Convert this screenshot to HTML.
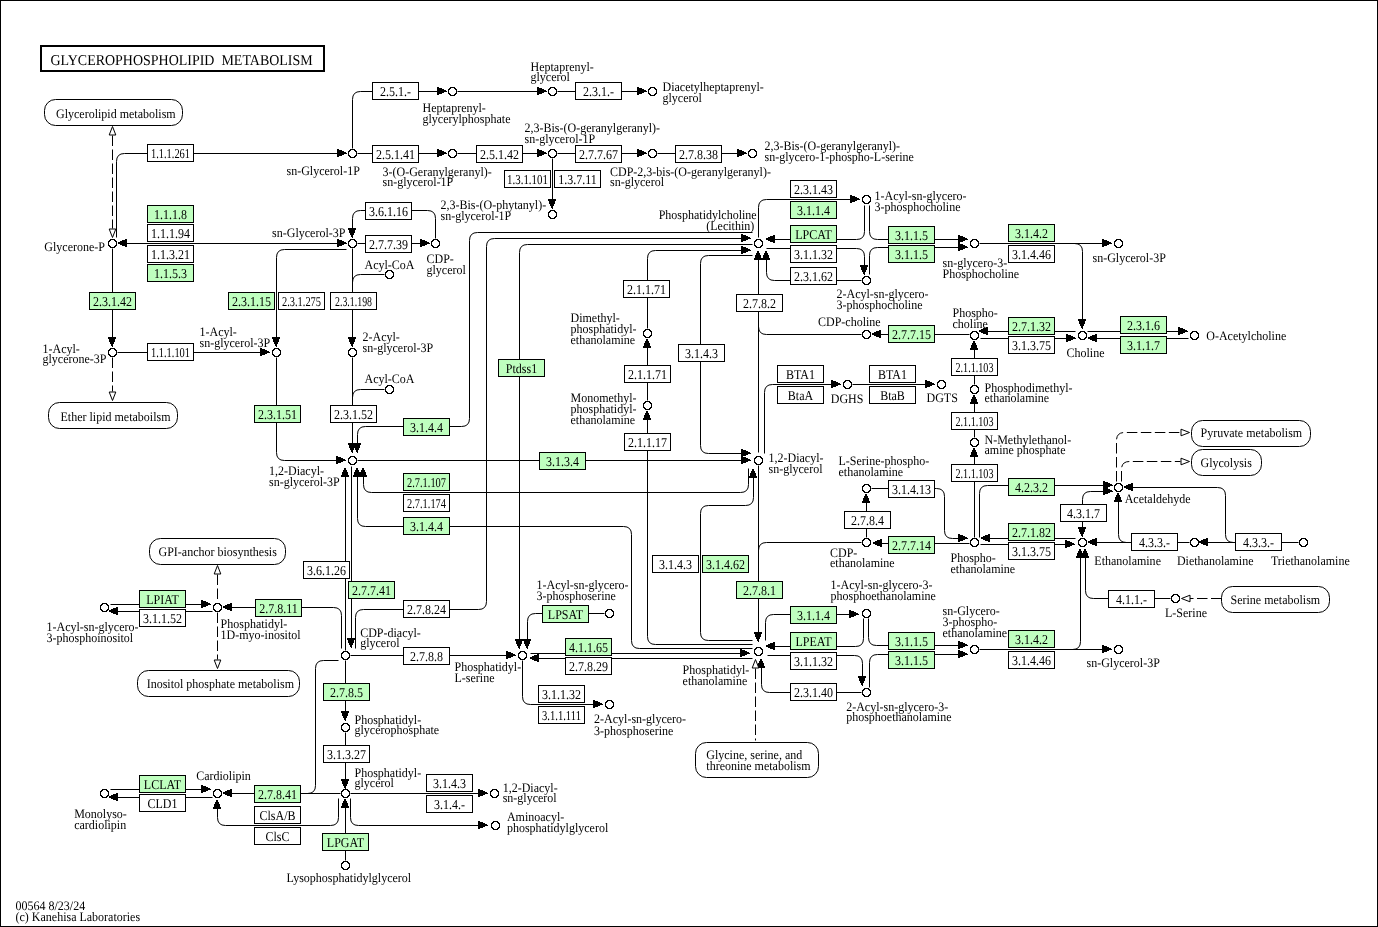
<!DOCTYPE html>
<html><head><meta charset="utf-8"><title>Glycerophospholipid metabolism</title>
<style>
html,body{margin:0;padding:0;background:#fff;}
svg{display:block;text-rendering:geometricPrecision;will-change:transform;font-family:"Liberation Serif",serif;font-size:12px;fill:#000;}
text{fill:#000;}
</style></head><body>
<svg width="1378" height="927" viewBox="0 0 1378 927">
<defs><g id="ring" shape-rendering="crispEdges"><path d="M3 1H6V2H7V3H8V6H7V7H6V8H3V7H2V6H1V3H2V2H3Z" fill="#fff"/><path d="M2 0H7V1H8V2H9V7H8V8H7V9H2V8H1V7H0V2H1V1H2Z M3 1H6V2H7V3H8V6H7V7H6V8H3V7H2V6H1V3H2V2H3Z" fill="#000" fill-rule="evenodd"/></g></defs>
<rect x="0" y="0" width="1378" height="927" fill="#fff"/>
<rect x="0.5" y="0.5" width="1377" height="926" fill="none" stroke="#000" stroke-width="1"/>
<rect x="41" y="46" width="283" height="25" fill="none" stroke="#000" stroke-width="2"/>
<text x="50.5" y="64.6" font-size="15" textLength="262.2" lengthAdjust="spacingAndGlyphs">GLYCEROPHOSPHOLIPID&#160; METABOLISM</text>
<path d="M112.5 135.5 L112.5 228.5" fill="none" stroke="#000" stroke-width="1" stroke-dasharray="10.5,3.5"/>
<polygon points="112.5,126.5 115.8,135 109.2,135" fill="#fff" stroke="#000" stroke-width="1"/>
<polygon points="112.5,237.5 109.2,229 115.8,229" fill="#fff" stroke="#000" stroke-width="1"/>
<path d="M116.5 237.5 L116.5 161.5 Q116.5 153.5 124.5 153.5 L339.5 153.5" fill="none" stroke="#000" stroke-width="1"/>
<path d="M346 153h1v1h-1zM344 152h2v2h-2zM342 151h2v4h-2zM339 150h3v6h-3zM337 149h2v8h-2z" fill="#000" shape-rendering="crispEdges"/>
<path d="M126.5 243.5 L339.5 243.5" fill="none" stroke="#000" stroke-width="1"/>
<path d="M346 243h1v1h-1zM344 242h2v2h-2zM342 241h2v4h-2zM339 240h3v6h-3zM337 239h2v8h-2z" fill="#000" shape-rendering="crispEdges"/>
<path d="M118 242h2v2h-2zM120 241h2v4h-2zM122 240h3v6h-3zM125 239h2v8h-2z" fill="#000" shape-rendering="crispEdges"/>
<path d="M112.5 248.5 L112.5 338.5" fill="none" stroke="#000" stroke-width="1"/>
<path d="M112 346h1v1h-1zM111 344h2v2h-2zM110 342h4v2h-4zM109 339h6v3h-6zM108 337h8v2h-8z" fill="#000" shape-rendering="crispEdges"/>
<path d="M117.5 352.5 L262.5 352.5" fill="none" stroke="#000" stroke-width="1"/>
<path d="M269 352h1v1h-1zM267 351h2v2h-2zM265 350h2v4h-2zM262 349h3v6h-3zM260 348h2v8h-2z" fill="#000" shape-rendering="crispEdges"/>
<path d="M112.5 357.5 L112.5 391.5" fill="none" stroke="#000" stroke-width="1" stroke-dasharray="10.5,3.5"/>
<polygon points="112.5,400.5 109.2,392 115.8,392" fill="#fff" stroke="#000" stroke-width="1"/>
<path d="M352.5 148.5 L352.5 99.5 Q352.5 91.5 360.5 91.5 L439.5 91.5" fill="none" stroke="#000" stroke-width="1"/>
<path d="M446 91h1v1h-1zM444 90h2v2h-2zM442 89h2v4h-2zM439 88h3v6h-3zM437 87h2v8h-2z" fill="#000" shape-rendering="crispEdges"/>
<path d="M357.5 153.5 L439.5 153.5" fill="none" stroke="#000" stroke-width="1"/>
<path d="M446 153h1v1h-1zM444 152h2v2h-2zM442 151h2v4h-2zM439 150h3v6h-3zM437 149h2v8h-2z" fill="#000" shape-rendering="crispEdges"/>
<path d="M457.5 91.5 L539.5 91.5" fill="none" stroke="#000" stroke-width="1"/>
<path d="M546 91h1v1h-1zM544 90h2v2h-2zM542 89h2v4h-2zM539 88h3v6h-3zM537 87h2v8h-2z" fill="#000" shape-rendering="crispEdges"/>
<path d="M557.5 91.5 L639.5 91.5" fill="none" stroke="#000" stroke-width="1"/>
<path d="M646 91h1v1h-1zM644 90h2v2h-2zM642 89h2v4h-2zM639 88h3v6h-3zM637 87h2v8h-2z" fill="#000" shape-rendering="crispEdges"/>
<path d="M457.5 153.5 L539.5 153.5" fill="none" stroke="#000" stroke-width="1"/>
<path d="M546 153h1v1h-1zM544 152h2v2h-2zM542 151h2v4h-2zM539 150h3v6h-3zM537 149h2v8h-2z" fill="#000" shape-rendering="crispEdges"/>
<path d="M557.5 153.5 L639.5 153.5" fill="none" stroke="#000" stroke-width="1"/>
<path d="M646 153h1v1h-1zM644 152h2v2h-2zM642 151h2v4h-2zM639 150h3v6h-3zM637 149h2v8h-2z" fill="#000" shape-rendering="crispEdges"/>
<path d="M657.5 153.5 L739.5 153.5" fill="none" stroke="#000" stroke-width="1"/>
<path d="M746 153h1v1h-1zM744 152h2v2h-2zM742 151h2v4h-2zM739 150h3v6h-3zM737 149h2v8h-2z" fill="#000" shape-rendering="crispEdges"/>
<path d="M552.5 158.5 L552.5 200.5" fill="none" stroke="#000" stroke-width="1"/>
<path d="M552 208h1v1h-1zM551 206h2v2h-2zM550 204h4v2h-4zM549 201h6v3h-6zM548 199h8v2h-8z" fill="#000" shape-rendering="crispEdges"/>
<path d="M435.5 238.5 L435.5 218.5 Q435.5 210.5 427.5 210.5 L360.5 210.5 Q352.5 210.5 352.5 218.5 L352.5 229.5" fill="none" stroke="#000" stroke-width="1"/>
<path d="M352 237h1v1h-1zM351 235h2v2h-2zM350 233h4v2h-4zM349 230h6v3h-6zM348 228h8v2h-8z" fill="#000" shape-rendering="crispEdges"/>
<path d="M357.5 243.5 L422.5 243.5" fill="none" stroke="#000" stroke-width="1"/>
<path d="M429 243h1v1h-1zM427 242h2v2h-2zM425 241h2v4h-2zM422 240h3v6h-3zM420 239h2v8h-2z" fill="#000" shape-rendering="crispEdges"/>
<path d="M346.5 249.5 L284.5 249.5 Q276.5 249.5 276.5 257.5 L276.5 338.5" fill="none" stroke="#000" stroke-width="1"/>
<path d="M276 346h1v1h-1zM275 344h2v2h-2zM274 342h4v2h-4zM273 339h6v3h-6zM272 337h8v2h-8z" fill="#000" shape-rendering="crispEdges"/>
<path d="M352.5 248.5 L352.5 338.5" fill="none" stroke="#000" stroke-width="1"/>
<path d="M352 346h1v1h-1zM351 344h2v2h-2zM350 342h4v2h-4zM349 339h6v3h-6zM348 337h8v2h-8z" fill="#000" shape-rendering="crispEdges"/>
<path d="M384.5 274.5 L360.5 274.5 Q352.5 274.5 352.5 282.5 L352.5 290.5" fill="none" stroke="#000" stroke-width="1"/>
<path d="M384.5 389.5 L360.5 389.5 Q352.5 389.5 352.5 397.5 L352.5 405.5" fill="none" stroke="#000" stroke-width="1"/>
<path d="M276.5 357.5 L276.5 452.5 Q276.5 460.5 284.5 460.5 L338.5 460.5" fill="none" stroke="#000" stroke-width="1"/>
<path d="M345 460h1v1h-1zM343 459h2v2h-2zM341 458h2v4h-2zM338 457h3v6h-3zM336 456h2v8h-2z" fill="#000" shape-rendering="crispEdges"/>
<path d="M352.5 357.5 L352.5 444.5" fill="none" stroke="#000" stroke-width="1"/>
<path d="M352 452h1v1h-1zM351 450h2v2h-2zM350 448h4v2h-4zM349 445h6v3h-6zM348 443h8v2h-8z" fill="#000" shape-rendering="crispEdges"/>
<path d="M752.5 232.5 L477.5 232.5 Q469.5 232.5 469.5 240.5 L469.5 418.5 Q469.5 426.5 461.5 426.5 L365.5 426.5 Q357.5 426.5 357.5 434.5 L357.5 444.5" fill="none" stroke="#000" stroke-width="1"/>
<path d="M357 452h1v1h-1zM356 450h2v2h-2zM355 448h4v2h-4zM354 445h6v3h-6zM353 443h8v2h-8z" fill="#000" shape-rendering="crispEdges"/>
<path d="M357.5 460.5 L743.5 460.5" fill="none" stroke="#000" stroke-width="1"/>
<path d="M750 460h1v1h-1zM748 459h2v2h-2zM746 458h2v4h-2zM743 457h3v6h-3zM741 456h2v8h-2z" fill="#000" shape-rendering="crispEdges"/>
<path d="M752.5 255.5 L708.5 255.5 Q700.5 255.5 700.5 263.5 L700.5 445.5 Q700.5 453.5 708.5 453.5 L743.5 453.5" fill="none" stroke="#000" stroke-width="1"/>
<path d="M750 453h1v1h-1zM748 452h2v2h-2zM746 451h2v4h-2zM743 450h3v6h-3zM741 449h2v8h-2z" fill="#000" shape-rendering="crispEdges"/>
<path d="M647.5 328.5 L647.5 258.5 Q647.5 250.5 655.5 250.5 L743.5 250.5" fill="none" stroke="#000" stroke-width="1"/>
<path d="M750 250h1v1h-1zM748 249h2v2h-2zM746 248h2v4h-2zM743 247h3v6h-3zM741 246h2v8h-2z" fill="#000" shape-rendering="crispEdges"/>
<path d="M647.5 400.5 L647.5 347.5" fill="none" stroke="#000" stroke-width="1"/>
<path d="M646 339h2v2h-2zM645 341h4v2h-4zM644 343h6v3h-6zM643 346h8v2h-8z" fill="#000" shape-rendering="crispEdges"/>
<path d="M752.5 644.5 L655.5 644.5 Q647.5 644.5 647.5 636.5 L647.5 419.5" fill="none" stroke="#000" stroke-width="1"/>
<path d="M646 411h2v2h-2zM645 413h4v2h-4zM644 415h6v3h-6zM643 418h8v2h-8z" fill="#000" shape-rendering="crispEdges"/>
<path d="M752.5 244.5 L527.5 244.5 Q519.5 244.5 519.5 252.5 L519.5 640.5" fill="none" stroke="#000" stroke-width="1"/>
<path d="M519 648h1v1h-1zM518 646h2v2h-2zM517 644h4v2h-4zM516 641h6v3h-6zM515 639h8v2h-8z" fill="#000" shape-rendering="crispEdges"/>
<path d="M355.5 648.5 L355.5 617.5 Q355.5 609.5 363.5 609.5 L478.5 609.5 Q486.5 609.5 486.5 601.5 L486.5 246.5 Q486.5 238.5 494.5 238.5 L743.5 238.5" fill="none" stroke="#000" stroke-width="1"/>
<path d="M750 238h1v1h-1zM748 237h2v2h-2zM746 236h2v4h-2zM743 235h3v6h-3zM741 234h2v8h-2z" fill="#000" shape-rendering="crispEdges"/>
<path d="M345.5 650.5 L345.5 476.5" fill="none" stroke="#000" stroke-width="1"/>
<path d="M344 468h2v2h-2zM343 470h4v2h-4zM342 472h6v3h-6zM341 475h8v2h-8z" fill="#000" shape-rendering="crispEdges"/>
<path d="M351.5 466.5 L351.5 639.5" fill="none" stroke="#000" stroke-width="1"/>
<path d="M351 647h1v1h-1zM350 645h2v2h-2zM349 643h4v2h-4zM348 640h6v3h-6zM347 638h8v2h-8z" fill="#000" shape-rendering="crispEdges"/>
<path d="M752.5 648.5 L639.5 648.5 Q631.5 648.5 631.5 640.5 L631.5 534.5 Q631.5 526.5 623.5 526.5 L365.5 526.5 Q357.5 526.5 357.5 518.5 L357.5 476.5" fill="none" stroke="#000" stroke-width="1"/>
<path d="M356 468h2v2h-2zM355 470h4v2h-4zM354 472h6v3h-6zM353 475h8v2h-8z" fill="#000" shape-rendering="crispEdges"/>
<path d="M748.5 468.5 L748.5 484.5 Q748.5 492.5 740.5 492.5 L371.5 492.5 Q363.5 492.5 363.5 484.5 L363.5 476.5" fill="none" stroke="#000" stroke-width="1"/>
<path d="M362 468h2v2h-2zM361 470h4v2h-4zM360 472h6v3h-6zM359 475h8v2h-8z" fill="#000" shape-rendering="crispEdges"/>
<path d="M341.5 648.5 L341.5 615.5 Q341.5 607.5 333.5 607.5 L231.5 607.5" fill="none" stroke="#000" stroke-width="1"/>
<path d="M223 606h2v2h-2zM225 605h2v4h-2zM227 604h3v6h-3zM230 603h2v8h-2z" fill="#000" shape-rendering="crispEdges"/>
<path d="M217.5 574.5 L217.5 601.5" fill="none" stroke="#000" stroke-width="1" stroke-dasharray="10.5,3.5"/>
<polygon points="217.5,565.5 220.8,574 214.2,574" fill="#fff" stroke="#000" stroke-width="1"/>
<path d="M217.5 612.5 L217.5 659.5" fill="none" stroke="#000" stroke-width="1" stroke-dasharray="10.5,3.5"/>
<polygon points="217.5,668.5 214.2,660 220.8,660" fill="#fff" stroke="#000" stroke-width="1"/>
<path d="M110.5 604.5 L203.5 604.5" fill="none" stroke="#000" stroke-width="1"/>
<path d="M210 604h1v1h-1zM208 603h2v2h-2zM206 602h2v4h-2zM203 601h3v6h-3zM201 600h2v8h-2z" fill="#000" shape-rendering="crispEdges"/>
<path d="M212.5 611.5 L117.5 611.5" fill="none" stroke="#000" stroke-width="1"/>
<path d="M109 610h2v2h-2zM111 609h2v4h-2zM113 608h3v6h-3zM116 607h2v8h-2z" fill="#000" shape-rendering="crispEdges"/>
<path d="M350.5 655.5 L508.5 655.5" fill="none" stroke="#000" stroke-width="1"/>
<path d="M515 655h1v1h-1zM513 654h2v2h-2zM511 653h2v4h-2zM508 652h3v6h-3zM506 651h2v8h-2z" fill="#000" shape-rendering="crispEdges"/>
<path d="M345.5 660.5 L345.5 712.5" fill="none" stroke="#000" stroke-width="1"/>
<path d="M345 720h1v1h-1zM344 718h2v2h-2zM343 716h4v2h-4zM342 713h6v3h-6zM341 711h8v2h-8z" fill="#000" shape-rendering="crispEdges"/>
<path d="M338.5 660.5 L323.5 660.5 Q315.5 660.5 315.5 668.5 L315.5 785.5 Q315.5 793.5 307.5 793.5 L305.5 793.5" fill="none" stroke="#000" stroke-width="1"/>
<path d="M345.5 732.5 L345.5 780.5" fill="none" stroke="#000" stroke-width="1"/>
<path d="M345 788h1v1h-1zM344 786h2v2h-2zM343 784h4v2h-4zM342 781h6v3h-6zM341 779h8v2h-8z" fill="#000" shape-rendering="crispEdges"/>
<path d="M340.5 793.5 L231.5 793.5" fill="none" stroke="#000" stroke-width="1"/>
<path d="M223 792h2v2h-2zM225 791h2v4h-2zM227 790h3v6h-3zM230 789h2v8h-2z" fill="#000" shape-rendering="crispEdges"/>
<path d="M110.5 789.5 L203.5 789.5" fill="none" stroke="#000" stroke-width="1"/>
<path d="M210 789h1v1h-1zM208 788h2v2h-2zM206 787h2v4h-2zM203 786h3v6h-3zM201 785h2v8h-2z" fill="#000" shape-rendering="crispEdges"/>
<path d="M212.5 797.5 L117.5 797.5" fill="none" stroke="#000" stroke-width="1"/>
<path d="M109 796h2v2h-2zM111 795h2v4h-2zM113 794h3v6h-3zM116 793h2v8h-2z" fill="#000" shape-rendering="crispEdges"/>
<path d="M338.5 798.5 L338.5 817.5 Q338.5 825.5 330.5 825.5 L225.5 825.5 Q217.5 825.5 217.5 817.5 L217.5 808.5" fill="none" stroke="#000" stroke-width="1"/>
<path d="M216 800h2v2h-2zM215 802h4v2h-4zM214 804h6v3h-6zM213 807h8v2h-8z" fill="#000" shape-rendering="crispEdges"/>
<path d="M345.5 860.5 L345.5 807.5" fill="none" stroke="#000" stroke-width="1"/>
<path d="M344 799h2v2h-2zM343 801h4v2h-4zM342 803h6v3h-6zM341 806h8v2h-8z" fill="#000" shape-rendering="crispEdges"/>
<path d="M350.5 798.5 L350.5 817.5 Q350.5 825.5 358.5 825.5 L480.5 825.5" fill="none" stroke="#000" stroke-width="1"/>
<path d="M487 825h1v1h-1zM485 824h2v2h-2zM483 823h2v4h-2zM480 822h3v6h-3zM478 821h2v8h-2z" fill="#000" shape-rendering="crispEdges"/>
<path d="M350.5 793.5 L480.5 793.5" fill="none" stroke="#000" stroke-width="1"/>
<path d="M487 793h1v1h-1zM485 792h2v2h-2zM483 791h2v4h-2zM480 790h3v6h-3zM478 789h2v8h-2z" fill="#000" shape-rendering="crispEdges"/>
<path d="M604.5 613.5 L535.5 613.5 Q527.5 613.5 527.5 621.5 L527.5 640.5" fill="none" stroke="#000" stroke-width="1"/>
<path d="M527 648h1v1h-1zM526 646h2v2h-2zM525 644h4v2h-4zM524 641h6v3h-6zM523 639h8v2h-8z" fill="#000" shape-rendering="crispEdges"/>
<path d="M530.5 653.5 L742.5 653.5" fill="none" stroke="#000" stroke-width="1"/>
<path d="M749 653h1v1h-1zM747 652h2v2h-2zM745 651h2v4h-2zM742 650h3v6h-3zM740 649h2v8h-2z" fill="#000" shape-rendering="crispEdges"/>
<path d="M752.5 658.5 L538.5 658.5" fill="none" stroke="#000" stroke-width="1"/>
<path d="M530 657h2v2h-2zM532 656h2v4h-2zM534 655h3v6h-3zM537 654h2v8h-2z" fill="#000" shape-rendering="crispEdges"/>
<path d="M522.5 660.5 L522.5 696.5 Q522.5 704.5 530.5 704.5 L595.5 704.5" fill="none" stroke="#000" stroke-width="1"/>
<path d="M602 704h1v1h-1zM600 703h2v2h-2zM598 702h2v4h-2zM595 701h3v6h-3zM593 700h2v8h-2z" fill="#000" shape-rendering="crispEdges"/>
<path d="M758.5 452.5 L758.5 259.5" fill="none" stroke="#000" stroke-width="1"/>
<path d="M757 251h2v2h-2zM756 253h4v2h-4zM755 255h6v3h-6zM754 258h8v2h-8z" fill="#000" shape-rendering="crispEdges"/>
<path d="M758.5 318.5 L758.5 326.5 Q758.5 334.5 766.5 334.5 L861.5 334.5" fill="none" stroke="#000" stroke-width="1"/>
<path d="M758.5 465.5 L758.5 633.5" fill="none" stroke="#000" stroke-width="1"/>
<path d="M758 641h1v1h-1zM757 639h2v2h-2zM756 637h4v2h-4zM755 634h6v3h-6zM754 632h8v2h-8z" fill="#000" shape-rendering="crispEdges"/>
<path d="M758.5 552.5 L758.5 550.5 Q758.5 542.5 766.5 542.5 L861.5 542.5" fill="none" stroke="#000" stroke-width="1"/>
<path d="M764.5 453.5 L764.5 392.5 Q764.5 384.5 772.5 384.5 L833.5 384.5" fill="none" stroke="#000" stroke-width="1"/>
<path d="M840 384h1v1h-1zM838 383h2v2h-2zM836 382h2v4h-2zM833 381h3v6h-3zM831 380h2v8h-2z" fill="#000" shape-rendering="crispEdges"/>
<path d="M852.5 384.5 L927.5 384.5" fill="none" stroke="#000" stroke-width="1"/>
<path d="M934 384h1v1h-1zM932 383h2v2h-2zM930 382h2v4h-2zM927 381h3v6h-3zM925 380h2v8h-2z" fill="#000" shape-rendering="crispEdges"/>
<path d="M752.5 640.5 L708.5 640.5 Q700.5 640.5 700.5 632.5 L700.5 513.5 Q700.5 505.5 708.5 505.5 L745.5 505.5 Q753.5 505.5 753.5 497.5 L753.5 477.5" fill="none" stroke="#000" stroke-width="1"/>
<path d="M752 469h2v2h-2zM751 471h4v2h-4zM750 473h6v3h-6zM749 476h8v2h-8z" fill="#000" shape-rendering="crispEdges"/>
<path d="M765.5 640.5 L765.5 622.5 Q765.5 614.5 773.5 614.5 L851.5 614.5" fill="none" stroke="#000" stroke-width="1"/>
<path d="M858 614h1v1h-1zM856 613h2v2h-2zM854 612h2v4h-2zM851 611h3v6h-3zM849 610h2v8h-2z" fill="#000" shape-rendering="crispEdges"/>
<path d="M863.5 618.5 L863.5 638.5 Q863.5 646.5 855.5 646.5 L774.5 646.5" fill="none" stroke="#000" stroke-width="1"/>
<path d="M766 645h2v2h-2zM768 644h2v4h-2zM770 643h3v6h-3zM773 642h2v8h-2z" fill="#000" shape-rendering="crispEdges"/>
<path d="M767.5 655.5 L854.5 655.5 Q862.5 655.5 862.5 663.5 L862.5 677.5" fill="none" stroke="#000" stroke-width="1"/>
<path d="M862 685h1v1h-1zM861 683h2v2h-2zM860 681h4v2h-4zM859 678h6v3h-6zM858 676h8v2h-8z" fill="#000" shape-rendering="crispEdges"/>
<path d="M861.5 692.5 L769.5 692.5 Q761.5 692.5 761.5 684.5 L761.5 667.5" fill="none" stroke="#000" stroke-width="1"/>
<path d="M760 659h2v2h-2zM759 661h4v2h-4zM758 663h6v3h-6zM757 666h8v2h-8z" fill="#000" shape-rendering="crispEdges"/>
<path d="M755.5 668.5 L755.5 740.5" fill="none" stroke="#000" stroke-width="1" stroke-dasharray="10.5,3.5"/>
<polygon points="755.5,659.5 758.8,668 752.2,668" fill="#fff" stroke="#000" stroke-width="1"/>
<path d="M868.5 618.5 L868.5 637.5 Q868.5 645.5 876.5 645.5 L960.5 645.5" fill="none" stroke="#000" stroke-width="1"/>
<path d="M967 645h1v1h-1zM965 644h2v2h-2zM963 643h2v4h-2zM960 642h3v6h-3zM958 641h2v8h-2z" fill="#000" shape-rendering="crispEdges"/>
<path d="M869.5 687.5 L869.5 662.5 Q869.5 654.5 877.5 654.5 L960.5 654.5" fill="none" stroke="#000" stroke-width="1"/>
<path d="M967 654h1v1h-1zM965 653h2v2h-2zM963 652h2v4h-2zM960 651h3v6h-3zM958 650h2v8h-2z" fill="#000" shape-rendering="crispEdges"/>
<path d="M979.5 649.5 L1104.5 649.5" fill="none" stroke="#000" stroke-width="1"/>
<path d="M1111 649h1v1h-1zM1109 648h2v2h-2zM1107 647h2v4h-2zM1104 646h3v6h-3zM1102 645h2v8h-2z" fill="#000" shape-rendering="crispEdges"/>
<path d="M1070.5 649.5 L1072.5 649.5 Q1080.5 649.5 1080.5 641.5 L1080.5 557.5" fill="none" stroke="#000" stroke-width="1"/>
<path d="M1079 549h2v2h-2zM1078 551h4v2h-4zM1077 553h6v3h-6zM1076 556h8v2h-8z" fill="#000" shape-rendering="crispEdges"/>
<path d="M758.5 237.5 L758.5 207.5 Q758.5 199.5 766.5 199.5 L852.5 199.5" fill="none" stroke="#000" stroke-width="1"/>
<path d="M859 199h1v1h-1zM857 198h2v2h-2zM855 197h2v4h-2zM852 196h3v6h-3zM850 195h2v8h-2z" fill="#000" shape-rendering="crispEdges"/>
<path d="M864.5 205.5 L864.5 231.5 Q864.5 239.5 856.5 239.5 L774.5 239.5" fill="none" stroke="#000" stroke-width="1"/>
<path d="M766 238h2v2h-2zM768 237h2v4h-2zM770 236h3v6h-3zM773 235h2v8h-2z" fill="#000" shape-rendering="crispEdges"/>
<path d="M766.5 248.5 L856.5 248.5 Q864.5 248.5 864.5 256.5 L864.5 266.5" fill="none" stroke="#000" stroke-width="1"/>
<path d="M864 274h1v1h-1zM863 272h2v2h-2zM862 270h4v2h-4zM861 267h6v3h-6zM860 265h8v2h-8z" fill="#000" shape-rendering="crispEdges"/>
<path d="M861.5 280.5 L774.5 280.5 Q766.5 280.5 766.5 272.5 L766.5 259.5" fill="none" stroke="#000" stroke-width="1"/>
<path d="M765 251h2v2h-2zM764 253h4v2h-4zM763 255h6v3h-6zM762 258h8v2h-8z" fill="#000" shape-rendering="crispEdges"/>
<path d="M869.5 205.5 L869.5 231.5 Q869.5 239.5 877.5 239.5 L960.5 239.5" fill="none" stroke="#000" stroke-width="1"/>
<path d="M967 239h1v1h-1zM965 238h2v2h-2zM963 237h2v4h-2zM960 236h3v6h-3zM958 235h2v8h-2z" fill="#000" shape-rendering="crispEdges"/>
<path d="M869.5 274.5 L869.5 255.5 Q869.5 247.5 877.5 247.5 L960.5 247.5" fill="none" stroke="#000" stroke-width="1"/>
<path d="M967 247h1v1h-1zM965 246h2v2h-2zM963 245h2v4h-2zM960 244h3v6h-3zM958 243h2v8h-2z" fill="#000" shape-rendering="crispEdges"/>
<path d="M979.5 243.5 L1104.5 243.5" fill="none" stroke="#000" stroke-width="1"/>
<path d="M1111 243h1v1h-1zM1109 242h2v2h-2zM1107 241h2v4h-2zM1104 240h3v6h-3zM1102 239h2v8h-2z" fill="#000" shape-rendering="crispEdges"/>
<path d="M1074.5 243.5 L1074.5 243.5 Q1082.5 243.5 1082.5 251.5 L1082.5 320.5" fill="none" stroke="#000" stroke-width="1"/>
<path d="M1082 328h1v1h-1zM1081 326h2v2h-2zM1080 324h4v2h-4zM1079 321h6v3h-6zM1078 319h8v2h-8z" fill="#000" shape-rendering="crispEdges"/>
<path d="M1075.5 331.5 L987.5 331.5" fill="none" stroke="#000" stroke-width="1"/>
<path d="M979 330h2v2h-2zM981 329h2v4h-2zM983 328h3v6h-3zM986 327h2v8h-2z" fill="#000" shape-rendering="crispEdges"/>
<path d="M980.5 338.5 L1068.5 338.5" fill="none" stroke="#000" stroke-width="1"/>
<path d="M1075 338h1v1h-1zM1073 337h2v2h-2zM1071 336h2v4h-2zM1068 335h3v6h-3zM1066 334h2v8h-2z" fill="#000" shape-rendering="crispEdges"/>
<path d="M1087.5 331.5 L1180.5 331.5" fill="none" stroke="#000" stroke-width="1"/>
<path d="M1187 331h1v1h-1zM1185 330h2v2h-2zM1183 329h2v4h-2zM1180 328h3v6h-3zM1178 327h2v8h-2z" fill="#000" shape-rendering="crispEdges"/>
<path d="M1188.5 338.5 L1096.5 338.5" fill="none" stroke="#000" stroke-width="1"/>
<path d="M1088 337h2v2h-2zM1090 336h2v4h-2zM1092 335h3v6h-3zM1095 334h2v8h-2z" fill="#000" shape-rendering="crispEdges"/>
<path d="M969.5 334.5 L880.5 334.5" fill="none" stroke="#000" stroke-width="1"/>
<path d="M872 333h2v2h-2zM874 332h2v4h-2zM876 331h3v6h-3zM879 330h2v8h-2z" fill="#000" shape-rendering="crispEdges"/>
<path d="M974.5 384.5 L974.5 349.5" fill="none" stroke="#000" stroke-width="1"/>
<path d="M973 341h2v2h-2zM972 343h4v2h-4zM971 345h6v3h-6zM970 348h8v2h-8z" fill="#000" shape-rendering="crispEdges"/>
<path d="M974.5 437.5 L974.5 403.5" fill="none" stroke="#000" stroke-width="1"/>
<path d="M973 395h2v2h-2zM972 397h4v2h-4zM971 399h6v3h-6zM970 402h8v2h-8z" fill="#000" shape-rendering="crispEdges"/>
<path d="M974.5 537.5 L974.5 456.5" fill="none" stroke="#000" stroke-width="1"/>
<path d="M973 448h2v2h-2zM972 450h4v2h-4zM971 452h6v3h-6zM970 455h8v2h-8z" fill="#000" shape-rendering="crispEdges"/>
<path d="M979.5 537.5 L979.5 493.5 Q979.5 485.5 987.5 485.5 L1105.5 485.5" fill="none" stroke="#000" stroke-width="1"/>
<path d="M1112 485h1v1h-1zM1110 484h2v2h-2zM1108 483h2v4h-2zM1105 482h3v6h-3zM1103 481h2v8h-2z" fill="#000" shape-rendering="crispEdges"/>
<path d="M1075.5 538.5 L989.5 538.5" fill="none" stroke="#000" stroke-width="1"/>
<path d="M981 537h2v2h-2zM983 536h2v4h-2zM985 535h3v6h-3zM988 534h2v8h-2z" fill="#000" shape-rendering="crispEdges"/>
<path d="M980.5 544.5 L1067.5 544.5" fill="none" stroke="#000" stroke-width="1"/>
<path d="M1074 544h1v1h-1zM1072 543h2v2h-2zM1070 542h2v4h-2zM1067 541h3v6h-3zM1065 540h2v8h-2z" fill="#000" shape-rendering="crispEdges"/>
<path d="M969.5 543.5 L881.5 543.5" fill="none" stroke="#000" stroke-width="1"/>
<path d="M873 542h2v2h-2zM875 541h2v4h-2zM877 540h3v6h-3zM880 539h2v8h-2z" fill="#000" shape-rendering="crispEdges"/>
<path d="M866.5 537.5 L866.5 502.5" fill="none" stroke="#000" stroke-width="1"/>
<path d="M865 494h2v2h-2zM864 496h4v2h-4zM863 498h6v3h-6zM862 501h8v2h-8z" fill="#000" shape-rendering="crispEdges"/>
<path d="M871.5 488.5 L936.5 488.5 Q944.5 488.5 944.5 496.5 L944.5 530.5 Q944.5 538.5 952.5 538.5 L960.5 538.5" fill="none" stroke="#000" stroke-width="1"/>
<path d="M967 538h1v1h-1zM965 537h2v2h-2zM963 536h2v4h-2zM960 535h3v6h-3zM958 534h2v8h-2z" fill="#000" shape-rendering="crispEdges"/>
<path d="M1082.5 528.5 L1082.5 499.5 Q1082.5 491.5 1090.5 491.5 L1105.5 491.5" fill="none" stroke="#000" stroke-width="1"/>
<path d="M1112 491h1v1h-1zM1110 490h2v2h-2zM1108 489h2v4h-2zM1105 488h3v6h-3zM1103 487h2v8h-2z" fill="#000" shape-rendering="crispEdges"/>
<path d="M1082 536h1v1h-1zM1081 534h2v2h-2zM1080 532h4v2h-4zM1079 529h6v3h-6zM1078 527h8v2h-8z" fill="#000" shape-rendering="crispEdges"/>
<path d="M1189.5 542.5 L1096.5 542.5" fill="none" stroke="#000" stroke-width="1"/>
<path d="M1088 541h2v2h-2zM1090 540h2v4h-2zM1092 539h3v6h-3zM1095 538h2v8h-2z" fill="#000" shape-rendering="crispEdges"/>
<path d="M1126.5 542.5 L1126.5 542.5 Q1118.5 542.5 1118.5 534.5 L1118.5 501.5" fill="none" stroke="#000" stroke-width="1"/>
<path d="M1117 493h2v2h-2zM1116 495h4v2h-4zM1115 497h6v3h-6zM1114 500h8v2h-8z" fill="#000" shape-rendering="crispEdges"/>
<path d="M1298.5 542.5 L1207.5 542.5" fill="none" stroke="#000" stroke-width="1"/>
<path d="M1199 541h2v2h-2zM1201 540h2v4h-2zM1203 539h3v6h-3zM1206 538h2v8h-2z" fill="#000" shape-rendering="crispEdges"/>
<path d="M1233.5 542.5 L1233.5 542.5 Q1225.5 542.5 1225.5 534.5 L1225.5 495.5 Q1225.5 487.5 1217.5 487.5 L1132.5 487.5" fill="none" stroke="#000" stroke-width="1"/>
<path d="M1124 486h2v2h-2zM1126 485h2v4h-2zM1128 484h3v6h-3zM1131 483h2v8h-2z" fill="#000" shape-rendering="crispEdges"/>
<path d="M1116.5 481.5 L1116.5 440.5 Q1116.5 432.5 1124.5 432.5 L1180.5 432.5" fill="none" stroke="#000" stroke-width="1" stroke-dasharray="10.5,3.5"/>
<polygon points="1189.5,432.5 1181,435.8 1181,429.2" fill="#fff" stroke="#000" stroke-width="1"/>
<path d="M1121.5 481.5 L1121.5 469.5 Q1121.5 461.5 1129.5 461.5 L1180.5 461.5" fill="none" stroke="#000" stroke-width="1" stroke-dasharray="10.5,3.5"/>
<polygon points="1189.5,461.5 1181,464.8 1181,458.2" fill="#fff" stroke="#000" stroke-width="1"/>
<path d="M1170.5 598.5 L1093.5 598.5 Q1085.5 598.5 1085.5 590.5 L1085.5 557.5" fill="none" stroke="#000" stroke-width="1"/>
<path d="M1084 549h2v2h-2zM1083 551h4v2h-4zM1082 553h6v3h-6zM1081 556h8v2h-8z" fill="#000" shape-rendering="crispEdges"/>
<path d="M1221.5 598.5 L1189.5 598.5" fill="none" stroke="#000" stroke-width="1" stroke-dasharray="10.5,3.5"/>
<polygon points="1181.5,598.5 1190,595.2 1190,601.8" fill="#fff" stroke="#000" stroke-width="1"/>
<rect x="44.5" y="99.5" width="138" height="26" rx="11" ry="11" fill="#fff" stroke="#000" stroke-width="1"/>
<text x="56" y="117.5" textLength="119.66" lengthAdjust="spacingAndGlyphs" font-size="13">Glycerolipid metabolism</text>
<rect x="48.5" y="402.5" width="129" height="26" rx="11" ry="11" fill="#fff" stroke="#000" stroke-width="1"/>
<text x="60.5" y="420.5" textLength="109.98" lengthAdjust="spacingAndGlyphs" font-size="13">Ether lipid metaboilsm</text>
<rect x="149.5" y="538.5" width="136" height="26" rx="11" ry="11" fill="#fff" stroke="#000" stroke-width="1"/>
<text x="158.5" y="555.5" textLength="118.33" lengthAdjust="spacingAndGlyphs" font-size="13">GPI-anchor biosynthesis</text>
<rect x="137.5" y="670.5" width="162" height="26" rx="11" ry="11" fill="#fff" stroke="#000" stroke-width="1"/>
<text x="146.7" y="687.5" textLength="147.33" lengthAdjust="spacingAndGlyphs" font-size="13">Inositol phosphate metabolism</text>
<rect x="695.5" y="742.5" width="123" height="35" rx="11" ry="11" fill="#fff" stroke="#000" stroke-width="1"/>
<text x="706.3" y="759.1" textLength="95.97" lengthAdjust="spacingAndGlyphs" font-size="13">Glycine, serine, and</text>
<text x="706.3" y="770" textLength="104.31" lengthAdjust="spacingAndGlyphs" font-size="13">threonine metabolism</text>
<rect x="1191.5" y="420.5" width="119" height="26" rx="11" ry="11" fill="#fff" stroke="#000" stroke-width="1"/>
<text x="1200.5" y="436.9" textLength="101.66" lengthAdjust="spacingAndGlyphs" font-size="13">Pyruvate metabolism</text>
<rect x="1191.5" y="449.5" width="70" height="26" rx="11" ry="11" fill="#fff" stroke="#000" stroke-width="1"/>
<text x="1200.5" y="467.3" textLength="51.34" lengthAdjust="spacingAndGlyphs" font-size="13">Glycolysis</text>
<rect x="1221.5" y="586.5" width="108" height="26" rx="11" ry="11" fill="#fff" stroke="#000" stroke-width="1"/>
<text x="1230.5" y="603.8" textLength="89.66" lengthAdjust="spacingAndGlyphs" font-size="13">Serine metabolism</text>
<rect x="147.5" y="144.5" width="46" height="17" fill="#fff" stroke="#000" stroke-width="1"/>
<text x="170.5" y="158" text-anchor="middle" font-size="13.5" textLength="39" lengthAdjust="spacingAndGlyphs">1.1.1.261</text>
<rect x="147.5" y="205.5" width="46" height="17" fill="#bfffbf" stroke="#000" stroke-width="1"/>
<text x="170.5" y="219" text-anchor="middle" font-size="13.5" textLength="33" lengthAdjust="spacingAndGlyphs">1.1.1.8</text>
<rect x="147.5" y="224.5" width="46" height="17" fill="#fff" stroke="#000" stroke-width="1"/>
<text x="170.5" y="238" text-anchor="middle" font-size="13.5" textLength="39" lengthAdjust="spacingAndGlyphs">1.1.1.94</text>
<rect x="147.5" y="245.5" width="46" height="17" fill="#fff" stroke="#000" stroke-width="1"/>
<text x="170.5" y="259" text-anchor="middle" font-size="13.5" textLength="39" lengthAdjust="spacingAndGlyphs">1.1.3.21</text>
<rect x="147.5" y="264.5" width="46" height="17" fill="#bfffbf" stroke="#000" stroke-width="1"/>
<text x="170.5" y="278" text-anchor="middle" font-size="13.5" textLength="33" lengthAdjust="spacingAndGlyphs">1.1.5.3</text>
<rect x="89.5" y="292.5" width="46" height="17" fill="#bfffbf" stroke="#000" stroke-width="1"/>
<text x="112.5" y="306" text-anchor="middle" font-size="13.5" textLength="39" lengthAdjust="spacingAndGlyphs">2.3.1.42</text>
<rect x="147.5" y="343.5" width="46" height="17" fill="#fff" stroke="#000" stroke-width="1"/>
<text x="170.5" y="357" text-anchor="middle" font-size="13.5" textLength="39" lengthAdjust="spacingAndGlyphs">1.1.1.101</text>
<rect x="139.5" y="590.5" width="46" height="17" fill="#bfffbf" stroke="#000" stroke-width="1"/>
<text x="162.5" y="604" text-anchor="middle" font-size="13.5" textLength="32.67" lengthAdjust="spacingAndGlyphs">LPIAT</text>
<rect x="139.5" y="609.5" width="46" height="17" fill="#fff" stroke="#000" stroke-width="1"/>
<text x="162.5" y="623" text-anchor="middle" font-size="13.5" textLength="39" lengthAdjust="spacingAndGlyphs">3.1.1.52</text>
<rect x="139.5" y="775.5" width="46" height="17" fill="#bfffbf" stroke="#000" stroke-width="1"/>
<text x="162.5" y="789" text-anchor="middle" font-size="13.5" textLength="37.34" lengthAdjust="spacingAndGlyphs">LCLAT</text>
<rect x="139.5" y="794.5" width="46" height="17" fill="#fff" stroke="#000" stroke-width="1"/>
<text x="162.5" y="808" text-anchor="middle" font-size="13.5" textLength="30" lengthAdjust="spacingAndGlyphs">CLD1</text>
<rect x="372.5" y="82.5" width="46" height="17" fill="#fff" stroke="#000" stroke-width="1"/>
<text x="395.5" y="96" text-anchor="middle" font-size="13.5" textLength="31" lengthAdjust="spacingAndGlyphs">2.5.1.-</text>
<rect x="372.5" y="145.5" width="46" height="17" fill="#fff" stroke="#000" stroke-width="1"/>
<text x="395.5" y="159" text-anchor="middle" font-size="13.5" textLength="39" lengthAdjust="spacingAndGlyphs">2.5.1.41</text>
<rect x="365.5" y="202.5" width="46" height="17" fill="#fff" stroke="#000" stroke-width="1"/>
<text x="388.5" y="216" text-anchor="middle" font-size="13.5" textLength="39" lengthAdjust="spacingAndGlyphs">3.6.1.16</text>
<rect x="365.5" y="235.5" width="46" height="17" fill="#fff" stroke="#000" stroke-width="1"/>
<text x="388.5" y="249" text-anchor="middle" font-size="13.5" textLength="39" lengthAdjust="spacingAndGlyphs">2.7.7.39</text>
<rect x="228.5" y="292.5" width="46" height="17" fill="#bfffbf" stroke="#000" stroke-width="1"/>
<text x="251.5" y="306" text-anchor="middle" font-size="13.5" textLength="39" lengthAdjust="spacingAndGlyphs">2.3.1.15</text>
<rect x="278.5" y="292.5" width="46" height="17" fill="#fff" stroke="#000" stroke-width="1"/>
<text x="301.5" y="306" text-anchor="middle" font-size="13.5" textLength="39" lengthAdjust="spacingAndGlyphs">2.3.1.275</text>
<rect x="330.5" y="292.5" width="46" height="17" fill="#fff" stroke="#000" stroke-width="1"/>
<text x="353.5" y="306" text-anchor="middle" font-size="13.5" textLength="37" lengthAdjust="spacingAndGlyphs">2.3.1.198</text>
<rect x="254.5" y="405.5" width="46" height="17" fill="#bfffbf" stroke="#000" stroke-width="1"/>
<text x="277.5" y="419" text-anchor="middle" font-size="13.5" textLength="39" lengthAdjust="spacingAndGlyphs">2.3.1.51</text>
<rect x="330.5" y="405.5" width="46" height="17" fill="#fff" stroke="#000" stroke-width="1"/>
<text x="353.5" y="419" text-anchor="middle" font-size="13.5" textLength="39" lengthAdjust="spacingAndGlyphs">2.3.1.52</text>
<rect x="403.5" y="418.5" width="46" height="17" fill="#bfffbf" stroke="#000" stroke-width="1"/>
<text x="426.5" y="432" text-anchor="middle" font-size="13.5" textLength="33" lengthAdjust="spacingAndGlyphs">3.1.4.4</text>
<rect x="403.5" y="473.5" width="46" height="17" fill="#bfffbf" stroke="#000" stroke-width="1"/>
<text x="426.5" y="487" text-anchor="middle" font-size="13.5" textLength="39" lengthAdjust="spacingAndGlyphs">2.7.1.107</text>
<rect x="403.5" y="494.5" width="46" height="17" fill="#fff" stroke="#000" stroke-width="1"/>
<text x="426.5" y="508" text-anchor="middle" font-size="13.5" textLength="39" lengthAdjust="spacingAndGlyphs">2.7.1.174</text>
<rect x="403.5" y="517.5" width="46" height="17" fill="#bfffbf" stroke="#000" stroke-width="1"/>
<text x="426.5" y="531" text-anchor="middle" font-size="13.5" textLength="33" lengthAdjust="spacingAndGlyphs">3.1.4.4</text>
<rect x="303.5" y="561.5" width="46" height="17" fill="#fff" stroke="#000" stroke-width="1"/>
<text x="326.5" y="575" text-anchor="middle" font-size="13.5" textLength="39" lengthAdjust="spacingAndGlyphs">3.6.1.26</text>
<rect x="348.5" y="581.5" width="46" height="17" fill="#bfffbf" stroke="#000" stroke-width="1"/>
<text x="371.5" y="595" text-anchor="middle" font-size="13.5" textLength="39" lengthAdjust="spacingAndGlyphs">2.7.7.41</text>
<rect x="255.5" y="599.5" width="46" height="17" fill="#bfffbf" stroke="#000" stroke-width="1"/>
<text x="278.5" y="613" text-anchor="middle" font-size="13.5" textLength="38.56" lengthAdjust="spacingAndGlyphs">2.7.8.11</text>
<rect x="403.5" y="600.5" width="46" height="17" fill="#fff" stroke="#000" stroke-width="1"/>
<text x="426.5" y="614" text-anchor="middle" font-size="13.5" textLength="39" lengthAdjust="spacingAndGlyphs">2.7.8.24</text>
<rect x="403.5" y="647.5" width="46" height="17" fill="#fff" stroke="#000" stroke-width="1"/>
<text x="426.5" y="661" text-anchor="middle" font-size="13.5" textLength="33" lengthAdjust="spacingAndGlyphs">2.7.8.8</text>
<rect x="323.5" y="683.5" width="46" height="17" fill="#bfffbf" stroke="#000" stroke-width="1"/>
<text x="346.5" y="697" text-anchor="middle" font-size="13.5" textLength="33" lengthAdjust="spacingAndGlyphs">2.7.8.5</text>
<rect x="323.5" y="745.5" width="46" height="17" fill="#fff" stroke="#000" stroke-width="1"/>
<text x="346.5" y="759" text-anchor="middle" font-size="13.5" textLength="39" lengthAdjust="spacingAndGlyphs">3.1.3.27</text>
<rect x="254.5" y="785.5" width="46" height="17" fill="#bfffbf" stroke="#000" stroke-width="1"/>
<text x="277.5" y="799" text-anchor="middle" font-size="13.5" textLength="39" lengthAdjust="spacingAndGlyphs">2.7.8.41</text>
<rect x="254.5" y="806.5" width="46" height="17" fill="#fff" stroke="#000" stroke-width="1"/>
<text x="277.5" y="820" text-anchor="middle" font-size="13.5" textLength="36.02" lengthAdjust="spacingAndGlyphs">ClsA/B</text>
<rect x="254.5" y="827.5" width="46" height="17" fill="#fff" stroke="#000" stroke-width="1"/>
<text x="277.5" y="841" text-anchor="middle" font-size="13.5" textLength="24.02" lengthAdjust="spacingAndGlyphs">ClsC</text>
<rect x="322.5" y="833.5" width="46" height="17" fill="#bfffbf" stroke="#000" stroke-width="1"/>
<text x="345.5" y="847" text-anchor="middle" font-size="13.5" textLength="37.34" lengthAdjust="spacingAndGlyphs">LPGAT</text>
<rect x="476.5" y="145.5" width="46" height="17" fill="#fff" stroke="#000" stroke-width="1"/>
<text x="499.5" y="159" text-anchor="middle" font-size="13.5" textLength="39" lengthAdjust="spacingAndGlyphs">2.5.1.42</text>
<rect x="575.5" y="82.5" width="46" height="17" fill="#fff" stroke="#000" stroke-width="1"/>
<text x="598.5" y="96" text-anchor="middle" font-size="13.5" textLength="31" lengthAdjust="spacingAndGlyphs">2.3.1.-</text>
<rect x="575.5" y="145.5" width="46" height="17" fill="#fff" stroke="#000" stroke-width="1"/>
<text x="598.5" y="159" text-anchor="middle" font-size="13.5" textLength="39" lengthAdjust="spacingAndGlyphs">2.7.7.67</text>
<rect x="504.5" y="170.5" width="46" height="17" fill="#fff" stroke="#000" stroke-width="1"/>
<text x="527.5" y="184" text-anchor="middle" font-size="13.5" textLength="41" lengthAdjust="spacingAndGlyphs">1.3.1.101</text>
<rect x="554.5" y="170.5" width="46" height="17" fill="#fff" stroke="#000" stroke-width="1"/>
<text x="577.5" y="184" text-anchor="middle" font-size="13.5" textLength="38.56" lengthAdjust="spacingAndGlyphs">1.3.7.11</text>
<rect x="675.5" y="145.5" width="46" height="17" fill="#fff" stroke="#000" stroke-width="1"/>
<text x="698.5" y="159" text-anchor="middle" font-size="13.5" textLength="39" lengthAdjust="spacingAndGlyphs">2.7.8.38</text>
<rect x="790.5" y="180.5" width="46" height="17" fill="#fff" stroke="#000" stroke-width="1"/>
<text x="813.5" y="194" text-anchor="middle" font-size="13.5" textLength="39" lengthAdjust="spacingAndGlyphs">2.3.1.43</text>
<rect x="790.5" y="201.5" width="46" height="17" fill="#bfffbf" stroke="#000" stroke-width="1"/>
<text x="813.5" y="215" text-anchor="middle" font-size="13.5" textLength="33" lengthAdjust="spacingAndGlyphs">3.1.1.4</text>
<rect x="790.5" y="225.5" width="46" height="17" fill="#bfffbf" stroke="#000" stroke-width="1"/>
<text x="813.5" y="239" text-anchor="middle" font-size="13.5" textLength="36.69" lengthAdjust="spacingAndGlyphs">LPCAT</text>
<rect x="790.5" y="245.5" width="46" height="17" fill="#fff" stroke="#000" stroke-width="1"/>
<text x="813.5" y="259" text-anchor="middle" font-size="13.5" textLength="39" lengthAdjust="spacingAndGlyphs">3.1.1.32</text>
<rect x="790.5" y="267.5" width="46" height="17" fill="#fff" stroke="#000" stroke-width="1"/>
<text x="813.5" y="281" text-anchor="middle" font-size="13.5" textLength="39" lengthAdjust="spacingAndGlyphs">2.3.1.62</text>
<rect x="888.5" y="226.5" width="46" height="17" fill="#bfffbf" stroke="#000" stroke-width="1"/>
<text x="911.5" y="240" text-anchor="middle" font-size="13.5" textLength="33" lengthAdjust="spacingAndGlyphs">3.1.1.5</text>
<rect x="888.5" y="245.5" width="46" height="17" fill="#bfffbf" stroke="#000" stroke-width="1"/>
<text x="911.5" y="259" text-anchor="middle" font-size="13.5" textLength="33" lengthAdjust="spacingAndGlyphs">3.1.1.5</text>
<rect x="1008.5" y="224.5" width="46" height="17" fill="#bfffbf" stroke="#000" stroke-width="1"/>
<text x="1031.5" y="238" text-anchor="middle" font-size="13.5" textLength="33" lengthAdjust="spacingAndGlyphs">3.1.4.2</text>
<rect x="1008.5" y="245.5" width="46" height="17" fill="#fff" stroke="#000" stroke-width="1"/>
<text x="1031.5" y="259" text-anchor="middle" font-size="13.5" textLength="39" lengthAdjust="spacingAndGlyphs">3.1.4.46</text>
<rect x="1008.5" y="317.5" width="46" height="17" fill="#bfffbf" stroke="#000" stroke-width="1"/>
<text x="1031.5" y="331" text-anchor="middle" font-size="13.5" textLength="39" lengthAdjust="spacingAndGlyphs">2.7.1.32</text>
<rect x="1008.5" y="336.5" width="46" height="17" fill="#fff" stroke="#000" stroke-width="1"/>
<text x="1031.5" y="350" text-anchor="middle" font-size="13.5" textLength="39" lengthAdjust="spacingAndGlyphs">3.1.3.75</text>
<rect x="1120.5" y="316.5" width="46" height="17" fill="#bfffbf" stroke="#000" stroke-width="1"/>
<text x="1143.5" y="330" text-anchor="middle" font-size="13.5" textLength="33" lengthAdjust="spacingAndGlyphs">2.3.1.6</text>
<rect x="1120.5" y="336.5" width="46" height="17" fill="#bfffbf" stroke="#000" stroke-width="1"/>
<text x="1143.5" y="350" text-anchor="middle" font-size="13.5" textLength="33" lengthAdjust="spacingAndGlyphs">3.1.1.7</text>
<rect x="951.5" y="358.5" width="46" height="17" fill="#fff" stroke="#000" stroke-width="1"/>
<text x="974.5" y="372" text-anchor="middle" font-size="13.5" textLength="38" lengthAdjust="spacingAndGlyphs">2.1.1.103</text>
<rect x="951.5" y="412.5" width="46" height="17" fill="#fff" stroke="#000" stroke-width="1"/>
<text x="974.5" y="426" text-anchor="middle" font-size="13.5" textLength="38" lengthAdjust="spacingAndGlyphs">2.1.1.103</text>
<rect x="951.5" y="464.5" width="46" height="17" fill="#fff" stroke="#000" stroke-width="1"/>
<text x="974.5" y="478" text-anchor="middle" font-size="13.5" textLength="38" lengthAdjust="spacingAndGlyphs">2.1.1.103</text>
<rect x="888.5" y="325.5" width="46" height="17" fill="#bfffbf" stroke="#000" stroke-width="1"/>
<text x="911.5" y="339" text-anchor="middle" font-size="13.5" textLength="39" lengthAdjust="spacingAndGlyphs">2.7.7.15</text>
<rect x="623.5" y="280.5" width="46" height="17" fill="#fff" stroke="#000" stroke-width="1"/>
<text x="646.5" y="294" text-anchor="middle" font-size="13.5" textLength="39" lengthAdjust="spacingAndGlyphs">2.1.1.71</text>
<rect x="624.5" y="365.5" width="46" height="17" fill="#fff" stroke="#000" stroke-width="1"/>
<text x="647.5" y="379" text-anchor="middle" font-size="13.5" textLength="39" lengthAdjust="spacingAndGlyphs">2.1.1.71</text>
<rect x="624.5" y="433.5" width="46" height="17" fill="#fff" stroke="#000" stroke-width="1"/>
<text x="647.5" y="447" text-anchor="middle" font-size="13.5" textLength="39" lengthAdjust="spacingAndGlyphs">2.1.1.17</text>
<rect x="736.5" y="294.5" width="46" height="17" fill="#fff" stroke="#000" stroke-width="1"/>
<text x="759.5" y="308" text-anchor="middle" font-size="13.5" textLength="33" lengthAdjust="spacingAndGlyphs">2.7.8.2</text>
<rect x="678.5" y="344.5" width="46" height="17" fill="#fff" stroke="#000" stroke-width="1"/>
<text x="701.5" y="358" text-anchor="middle" font-size="13.5" textLength="33" lengthAdjust="spacingAndGlyphs">3.1.4.3</text>
<rect x="498.5" y="359.5" width="46" height="17" fill="#bfffbf" stroke="#000" stroke-width="1"/>
<text x="521.5" y="373" text-anchor="middle" font-size="13.5" textLength="31.36" lengthAdjust="spacingAndGlyphs">Ptdss1</text>
<rect x="539.5" y="452.5" width="46" height="17" fill="#bfffbf" stroke="#000" stroke-width="1"/>
<text x="562.5" y="466" text-anchor="middle" font-size="13.5" textLength="33" lengthAdjust="spacingAndGlyphs">3.1.3.4</text>
<rect x="777.5" y="365.5" width="46" height="17" fill="#fff" stroke="#000" stroke-width="1"/>
<text x="800.5" y="379" text-anchor="middle" font-size="13.5" textLength="29.05" lengthAdjust="spacingAndGlyphs">BTA1</text>
<rect x="777.5" y="386.5" width="46" height="17" fill="#fff" stroke="#000" stroke-width="1"/>
<text x="800.5" y="400" text-anchor="middle" font-size="13.5" textLength="25.34" lengthAdjust="spacingAndGlyphs">BtaA</text>
<rect x="869.5" y="365.5" width="46" height="17" fill="#fff" stroke="#000" stroke-width="1"/>
<text x="892.5" y="379" text-anchor="middle" font-size="13.5" textLength="29.05" lengthAdjust="spacingAndGlyphs">BTA1</text>
<rect x="869.5" y="386.5" width="46" height="17" fill="#fff" stroke="#000" stroke-width="1"/>
<text x="892.5" y="400" text-anchor="middle" font-size="13.5" textLength="24.67" lengthAdjust="spacingAndGlyphs">BtaB</text>
<rect x="888.5" y="480.5" width="46" height="17" fill="#fff" stroke="#000" stroke-width="1"/>
<text x="911.5" y="494" text-anchor="middle" font-size="13.5" textLength="39" lengthAdjust="spacingAndGlyphs">3.1.4.13</text>
<rect x="844.5" y="511.5" width="46" height="17" fill="#fff" stroke="#000" stroke-width="1"/>
<text x="867.5" y="525" text-anchor="middle" font-size="13.5" textLength="33" lengthAdjust="spacingAndGlyphs">2.7.8.4</text>
<rect x="888.5" y="536.5" width="46" height="17" fill="#bfffbf" stroke="#000" stroke-width="1"/>
<text x="911.5" y="550" text-anchor="middle" font-size="13.5" textLength="39" lengthAdjust="spacingAndGlyphs">2.7.7.14</text>
<rect x="1008.5" y="478.5" width="46" height="17" fill="#bfffbf" stroke="#000" stroke-width="1"/>
<text x="1031.5" y="492" text-anchor="middle" font-size="13.5" textLength="33" lengthAdjust="spacingAndGlyphs">4.2.3.2</text>
<rect x="1008.5" y="523.5" width="46" height="17" fill="#bfffbf" stroke="#000" stroke-width="1"/>
<text x="1031.5" y="537" text-anchor="middle" font-size="13.5" textLength="39" lengthAdjust="spacingAndGlyphs">2.7.1.82</text>
<rect x="1008.5" y="542.5" width="46" height="17" fill="#fff" stroke="#000" stroke-width="1"/>
<text x="1031.5" y="556" text-anchor="middle" font-size="13.5" textLength="39" lengthAdjust="spacingAndGlyphs">3.1.3.75</text>
<rect x="1060.5" y="504.5" width="46" height="17" fill="#fff" stroke="#000" stroke-width="1"/>
<text x="1083.5" y="518" text-anchor="middle" font-size="13.5" textLength="33" lengthAdjust="spacingAndGlyphs">4.3.1.7</text>
<rect x="1131.5" y="533.5" width="46" height="17" fill="#fff" stroke="#000" stroke-width="1"/>
<text x="1154.5" y="547" text-anchor="middle" font-size="13.5" textLength="31" lengthAdjust="spacingAndGlyphs">4.3.3.-</text>
<rect x="1235.5" y="533.5" width="46" height="17" fill="#fff" stroke="#000" stroke-width="1"/>
<text x="1258.5" y="547" text-anchor="middle" font-size="13.5" textLength="31" lengthAdjust="spacingAndGlyphs">4.3.3.-</text>
<rect x="1108.5" y="590.5" width="46" height="17" fill="#fff" stroke="#000" stroke-width="1"/>
<text x="1131.5" y="604" text-anchor="middle" font-size="13.5" textLength="31" lengthAdjust="spacingAndGlyphs">4.1.1.-</text>
<rect x="652.5" y="555.5" width="46" height="17" fill="#fff" stroke="#000" stroke-width="1"/>
<text x="675.5" y="569" text-anchor="middle" font-size="13.5" textLength="33" lengthAdjust="spacingAndGlyphs">3.1.4.3</text>
<rect x="702.5" y="555.5" width="46" height="17" fill="#bfffbf" stroke="#000" stroke-width="1"/>
<text x="725.5" y="569" text-anchor="middle" font-size="13.5" textLength="39" lengthAdjust="spacingAndGlyphs">3.1.4.62</text>
<rect x="736.5" y="581.5" width="46" height="17" fill="#bfffbf" stroke="#000" stroke-width="1"/>
<text x="759.5" y="595" text-anchor="middle" font-size="13.5" textLength="33" lengthAdjust="spacingAndGlyphs">2.7.8.1</text>
<rect x="790.5" y="606.5" width="46" height="17" fill="#bfffbf" stroke="#000" stroke-width="1"/>
<text x="813.5" y="620" text-anchor="middle" font-size="13.5" textLength="33" lengthAdjust="spacingAndGlyphs">3.1.1.4</text>
<rect x="790.5" y="632.5" width="46" height="17" fill="#bfffbf" stroke="#000" stroke-width="1"/>
<text x="813.5" y="646" text-anchor="middle" font-size="13.5" textLength="36" lengthAdjust="spacingAndGlyphs">LPEAT</text>
<rect x="790.5" y="652.5" width="46" height="17" fill="#fff" stroke="#000" stroke-width="1"/>
<text x="813.5" y="666" text-anchor="middle" font-size="13.5" textLength="39" lengthAdjust="spacingAndGlyphs">3.1.1.32</text>
<rect x="790.5" y="683.5" width="46" height="17" fill="#fff" stroke="#000" stroke-width="1"/>
<text x="813.5" y="697" text-anchor="middle" font-size="13.5" textLength="39" lengthAdjust="spacingAndGlyphs">2.3.1.40</text>
<rect x="888.5" y="632.5" width="46" height="17" fill="#bfffbf" stroke="#000" stroke-width="1"/>
<text x="911.5" y="646" text-anchor="middle" font-size="13.5" textLength="33" lengthAdjust="spacingAndGlyphs">3.1.1.5</text>
<rect x="888.5" y="651.5" width="46" height="17" fill="#bfffbf" stroke="#000" stroke-width="1"/>
<text x="911.5" y="665" text-anchor="middle" font-size="13.5" textLength="33" lengthAdjust="spacingAndGlyphs">3.1.1.5</text>
<rect x="1008.5" y="630.5" width="46" height="17" fill="#bfffbf" stroke="#000" stroke-width="1"/>
<text x="1031.5" y="644" text-anchor="middle" font-size="13.5" textLength="33" lengthAdjust="spacingAndGlyphs">3.1.4.2</text>
<rect x="1008.5" y="651.5" width="46" height="17" fill="#fff" stroke="#000" stroke-width="1"/>
<text x="1031.5" y="665" text-anchor="middle" font-size="13.5" textLength="39" lengthAdjust="spacingAndGlyphs">3.1.4.46</text>
<rect x="542.5" y="605.5" width="46" height="17" fill="#bfffbf" stroke="#000" stroke-width="1"/>
<text x="565.5" y="619" text-anchor="middle" font-size="13.5" textLength="35.34" lengthAdjust="spacingAndGlyphs">LPSAT</text>
<rect x="565.5" y="638.5" width="46" height="17" fill="#bfffbf" stroke="#000" stroke-width="1"/>
<text x="588.5" y="652" text-anchor="middle" font-size="13.5" textLength="39" lengthAdjust="spacingAndGlyphs">4.1.1.65</text>
<rect x="565.5" y="657.5" width="46" height="17" fill="#fff" stroke="#000" stroke-width="1"/>
<text x="588.5" y="671" text-anchor="middle" font-size="13.5" textLength="39" lengthAdjust="spacingAndGlyphs">2.7.8.29</text>
<rect x="538.5" y="685.5" width="46" height="17" fill="#fff" stroke="#000" stroke-width="1"/>
<text x="561.5" y="699" text-anchor="middle" font-size="13.5" textLength="39" lengthAdjust="spacingAndGlyphs">3.1.1.32</text>
<rect x="538.5" y="706.5" width="46" height="17" fill="#fff" stroke="#000" stroke-width="1"/>
<text x="561.5" y="720" text-anchor="middle" font-size="13.5" textLength="39" lengthAdjust="spacingAndGlyphs">3.1.1.111</text>
<rect x="426.5" y="774.5" width="46" height="17" fill="#fff" stroke="#000" stroke-width="1"/>
<text x="449.5" y="788" text-anchor="middle" font-size="13.5" textLength="33" lengthAdjust="spacingAndGlyphs">3.1.4.3</text>
<rect x="426.5" y="795.5" width="46" height="17" fill="#fff" stroke="#000" stroke-width="1"/>
<text x="449.5" y="809" text-anchor="middle" font-size="13.5" textLength="31" lengthAdjust="spacingAndGlyphs">3.1.4.-</text>
<use href="#ring" x="108" y="239"/>
<use href="#ring" x="108" y="348"/>
<use href="#ring" x="348" y="149"/>
<use href="#ring" x="448" y="87"/>
<use href="#ring" x="548" y="87"/>
<use href="#ring" x="648" y="87"/>
<use href="#ring" x="448" y="149"/>
<use href="#ring" x="548" y="149"/>
<use href="#ring" x="648" y="149"/>
<use href="#ring" x="748" y="149"/>
<use href="#ring" x="548" y="210"/>
<use href="#ring" x="348" y="239"/>
<use href="#ring" x="431" y="239"/>
<use href="#ring" x="385" y="270"/>
<use href="#ring" x="272" y="348"/>
<use href="#ring" x="348" y="348"/>
<use href="#ring" x="385" y="385"/>
<use href="#ring" x="348" y="456"/>
<use href="#ring" x="341" y="651"/>
<use href="#ring" x="213" y="603"/>
<use href="#ring" x="100" y="603"/>
<use href="#ring" x="341" y="723"/>
<use href="#ring" x="341" y="789"/>
<use href="#ring" x="213" y="789"/>
<use href="#ring" x="100" y="789"/>
<use href="#ring" x="341" y="861"/>
<use href="#ring" x="490" y="789"/>
<use href="#ring" x="491" y="821"/>
<use href="#ring" x="518" y="651"/>
<use href="#ring" x="605" y="609"/>
<use href="#ring" x="605" y="700"/>
<use href="#ring" x="754" y="239"/>
<use href="#ring" x="862" y="195"/>
<use href="#ring" x="862" y="276"/>
<use href="#ring" x="970" y="239"/>
<use href="#ring" x="1114" y="239"/>
<use href="#ring" x="970" y="331"/>
<use href="#ring" x="1078" y="331"/>
<use href="#ring" x="1190" y="331"/>
<use href="#ring" x="862" y="330"/>
<use href="#ring" x="643" y="329"/>
<use href="#ring" x="643" y="401"/>
<use href="#ring" x="754" y="456"/>
<use href="#ring" x="843" y="380"/>
<use href="#ring" x="937" y="380"/>
<use href="#ring" x="970" y="385"/>
<use href="#ring" x="970" y="438"/>
<use href="#ring" x="862" y="484"/>
<use href="#ring" x="862" y="538"/>
<use href="#ring" x="970" y="538"/>
<use href="#ring" x="1114" y="483"/>
<use href="#ring" x="1078" y="538"/>
<use href="#ring" x="1190" y="538"/>
<use href="#ring" x="1299" y="538"/>
<use href="#ring" x="1171" y="594"/>
<use href="#ring" x="754" y="647"/>
<use href="#ring" x="862" y="609"/>
<use href="#ring" x="862" y="688"/>
<use href="#ring" x="970" y="645"/>
<use href="#ring" x="1114" y="645"/>
<text x="44.3" y="250.7" textLength="60.66" lengthAdjust="spacingAndGlyphs" font-size="13">Glycerone-P</text>
<text x="42.5" y="352.5" textLength="37.33" lengthAdjust="spacingAndGlyphs" font-size="13">1-Acyl-</text>
<text x="42.5" y="363.2" textLength="63.98" lengthAdjust="spacingAndGlyphs" font-size="13">glycerone-3P</text>
<text x="46.5" y="630.8" textLength="91.97" lengthAdjust="spacingAndGlyphs" font-size="13">1-Acyl-sn-glycero-</text>
<text x="46.5" y="641.5" textLength="86.67" lengthAdjust="spacingAndGlyphs" font-size="13">3-phosphoinositol</text>
<text x="74.2" y="817.9" textLength="52.67" lengthAdjust="spacingAndGlyphs" font-size="13">Monolyso-</text>
<text x="74.2" y="828.6" textLength="51.98" lengthAdjust="spacingAndGlyphs" font-size="13">cardiolipin</text>
<text x="196.2" y="779.5" textLength="54.67" lengthAdjust="spacingAndGlyphs" font-size="13">Cardiolipin</text>
<text x="15.5" y="909.8" textLength="69.67" lengthAdjust="spacingAndGlyphs" font-size="13">00564 8/23/24</text>
<text x="15.5" y="920.6" textLength="124.61" lengthAdjust="spacingAndGlyphs" font-size="13">(c) Kanehisa Laboratories</text>
<text x="286.5" y="175.1" textLength="73.33" lengthAdjust="spacingAndGlyphs" font-size="13">sn-Glycerol-1P</text>
<text x="382.5" y="175.9" textLength="109.28" lengthAdjust="spacingAndGlyphs" font-size="13">3-(O-Geranylgeranyl)-</text>
<text x="382.5" y="186.2" textLength="70.66" lengthAdjust="spacingAndGlyphs" font-size="13">sn-glycerol-1P</text>
<text x="422.5" y="112" textLength="63.31" lengthAdjust="spacingAndGlyphs" font-size="13">Heptaprenyl-</text>
<text x="422.5" y="122.5" textLength="87.98" lengthAdjust="spacingAndGlyphs" font-size="13">glycerylphosphate</text>
<text x="530.5" y="70.5" textLength="63.31" lengthAdjust="spacingAndGlyphs" font-size="13">Heptaprenyl-</text>
<text x="530.5" y="80.7" textLength="39.33" lengthAdjust="spacingAndGlyphs" font-size="13">glycerol</text>
<text x="662.5" y="91.1" textLength="101.3" lengthAdjust="spacingAndGlyphs" font-size="13">Diacetylheptaprenyl-</text>
<text x="662.5" y="101.5" textLength="39.33" lengthAdjust="spacingAndGlyphs" font-size="13">glycerol</text>
<text x="524.5" y="132.4" textLength="135.62" lengthAdjust="spacingAndGlyphs" font-size="13">2,3-Bis-(O-geranylgeranyl)-</text>
<text x="524.5" y="142.5" textLength="70.66" lengthAdjust="spacingAndGlyphs" font-size="13">sn-glycerol-1P</text>
<text x="610" y="175.9" textLength="160.95" lengthAdjust="spacingAndGlyphs" font-size="13">CDP-2,3-bis-(O-geranylgeranyl)-</text>
<text x="610" y="186.2" textLength="53.98" lengthAdjust="spacingAndGlyphs" font-size="13">sn-glycerol</text>
<text x="764.5" y="150.3" textLength="135.62" lengthAdjust="spacingAndGlyphs" font-size="13">2,3-Bis-(O-geranylgeranyl)-</text>
<text x="764.5" y="160.8" textLength="149.3" lengthAdjust="spacingAndGlyphs" font-size="13">sn-glycero-1-phospho-L-serine</text>
<text x="440.5" y="208.9" textLength="105.66" lengthAdjust="spacingAndGlyphs" font-size="13">2,3-Bis-(O-phytanyl)-</text>
<text x="440.5" y="219.7" textLength="70.66" lengthAdjust="spacingAndGlyphs" font-size="13">sn-glycerol-1P</text>
<text x="272.1" y="237" textLength="73.33" lengthAdjust="spacingAndGlyphs" font-size="13">sn-Glycerol-3P</text>
<text x="426.5" y="262.5" textLength="27.34" lengthAdjust="spacingAndGlyphs" font-size="13">CDP-</text>
<text x="426.5" y="274" textLength="39.33" lengthAdjust="spacingAndGlyphs" font-size="13">glycerol</text>
<text x="364.5" y="269.1" textLength="50" lengthAdjust="spacingAndGlyphs" font-size="13">Acyl-CoA</text>
<text x="199.5" y="336.2" textLength="37.33" lengthAdjust="spacingAndGlyphs" font-size="13">1-Acyl-</text>
<text x="199.5" y="347.1" textLength="70.66" lengthAdjust="spacingAndGlyphs" font-size="13">sn-glycerol-3P</text>
<text x="362.5" y="341.4" textLength="37.33" lengthAdjust="spacingAndGlyphs" font-size="13">2-Acyl-</text>
<text x="362.5" y="351.9" textLength="70.66" lengthAdjust="spacingAndGlyphs" font-size="13">sn-glycerol-3P</text>
<text x="364.5" y="383.2" textLength="50" lengthAdjust="spacingAndGlyphs" font-size="13">Acyl-CoA</text>
<text x="269" y="475.2" textLength="54.98" lengthAdjust="spacingAndGlyphs" font-size="13">1,2-Diacyl-</text>
<text x="269" y="486.1" textLength="70.66" lengthAdjust="spacingAndGlyphs" font-size="13">sn-glycerol-3P</text>
<text x="360.2" y="636.5" textLength="60.66" lengthAdjust="spacingAndGlyphs" font-size="13">CDP-diacyl-</text>
<text x="360.2" y="647.4" textLength="39.33" lengthAdjust="spacingAndGlyphs" font-size="13">glycerol</text>
<text x="220.6" y="628.1" textLength="66.67" lengthAdjust="spacingAndGlyphs" font-size="13">Phosphatidyl-</text>
<text x="220.6" y="639.3" textLength="80" lengthAdjust="spacingAndGlyphs" font-size="13">1D-myo-inositol</text>
<text x="354.5" y="723.7" textLength="66.67" lengthAdjust="spacingAndGlyphs" font-size="13">Phosphatidyl-</text>
<text x="354.5" y="734" textLength="84.64" lengthAdjust="spacingAndGlyphs" font-size="13">glycerophosphate</text>
<text x="354.5" y="776.7" textLength="66.67" lengthAdjust="spacingAndGlyphs" font-size="13">Phosphatidyl-</text>
<text x="354.5" y="787" textLength="39.33" lengthAdjust="spacingAndGlyphs" font-size="13">glycerol</text>
<text x="286.5" y="881.5" textLength="124.66" lengthAdjust="spacingAndGlyphs" font-size="13">Lysophosphatidylglycerol</text>
<text x="502.7" y="791.5" textLength="54.98" lengthAdjust="spacingAndGlyphs" font-size="13">1,2-Diacyl-</text>
<text x="502.7" y="802.1" textLength="53.98" lengthAdjust="spacingAndGlyphs" font-size="13">sn-glycerol</text>
<text x="506.9" y="821.4" textLength="57.33" lengthAdjust="spacingAndGlyphs" font-size="13">Aminoacyl-</text>
<text x="506.9" y="832" textLength="101.33" lengthAdjust="spacingAndGlyphs" font-size="13">phosphatidylglycerol</text>
<text x="454.5" y="670.6" textLength="66.67" lengthAdjust="spacingAndGlyphs" font-size="13">Phosphatidyl-</text>
<text x="454.5" y="682" textLength="39.98" lengthAdjust="spacingAndGlyphs" font-size="13">L-serine</text>
<text x="536.5" y="589.1" textLength="91.97" lengthAdjust="spacingAndGlyphs" font-size="13">1-Acyl-sn-glycero-</text>
<text x="536.5" y="599.5" textLength="79.33" lengthAdjust="spacingAndGlyphs" font-size="13">3-phosphoserine</text>
<text x="594.1" y="723.3" textLength="91.97" lengthAdjust="spacingAndGlyphs" font-size="13">2-Acyl-sn-glycero-</text>
<text x="594.1" y="735" textLength="79.33" lengthAdjust="spacingAndGlyphs" font-size="13">3-phosphoserine</text>
<text x="658.7" y="219" textLength="98" lengthAdjust="spacingAndGlyphs" font-size="13">Phosphatidylcholine</text>
<text x="706.3" y="230" textLength="47.98" lengthAdjust="spacingAndGlyphs" font-size="13">(Lecithin)</text>
<text x="874.5" y="200.2" textLength="91.97" lengthAdjust="spacingAndGlyphs" font-size="13">1-Acyl-sn-glycero-</text>
<text x="874.5" y="210.7" textLength="86" lengthAdjust="spacingAndGlyphs" font-size="13">3-phosphocholine</text>
<text x="836.5" y="297.6" textLength="91.97" lengthAdjust="spacingAndGlyphs" font-size="13">2-Acyl-sn-glycero-</text>
<text x="836.5" y="308.6" textLength="86" lengthAdjust="spacingAndGlyphs" font-size="13">3-phosphocholine</text>
<text x="942.5" y="267.1" textLength="64.64" lengthAdjust="spacingAndGlyphs" font-size="13">sn-glycero-3-</text>
<text x="942.5" y="277.5" textLength="76.67" lengthAdjust="spacingAndGlyphs" font-size="13">Phosphocholine</text>
<text x="1092.5" y="262.1" textLength="73.33" lengthAdjust="spacingAndGlyphs" font-size="13">sn-Glycerol-3P</text>
<text x="952.5" y="317" textLength="45.34" lengthAdjust="spacingAndGlyphs" font-size="13">Phospho-</text>
<text x="952.5" y="327.5" textLength="35.33" lengthAdjust="spacingAndGlyphs" font-size="13">choline</text>
<text x="1066.5" y="357.3" textLength="38" lengthAdjust="spacingAndGlyphs" font-size="13">Choline</text>
<text x="1206.3" y="340.1" textLength="79.97" lengthAdjust="spacingAndGlyphs" font-size="13">O-Acetylcholine</text>
<text x="818" y="325.7" textLength="62.67" lengthAdjust="spacingAndGlyphs" font-size="13">CDP-choline</text>
<text x="570.5" y="321.8" textLength="49.33" lengthAdjust="spacingAndGlyphs" font-size="13">Dimethyl-</text>
<text x="570.5" y="333" textLength="66" lengthAdjust="spacingAndGlyphs" font-size="13">phosphatidyl-</text>
<text x="570.5" y="344.2" textLength="64.64" lengthAdjust="spacingAndGlyphs" font-size="13">ethanolamine</text>
<text x="570.5" y="402.3" textLength="66" lengthAdjust="spacingAndGlyphs" font-size="13">Monomethyl-</text>
<text x="570.5" y="413.2" textLength="66" lengthAdjust="spacingAndGlyphs" font-size="13">phosphatidyl-</text>
<text x="570.5" y="424.1" textLength="64.64" lengthAdjust="spacingAndGlyphs" font-size="13">ethanolamine</text>
<text x="768.5" y="462.2" textLength="54.98" lengthAdjust="spacingAndGlyphs" font-size="13">1,2-Diacyl-</text>
<text x="768.5" y="473" textLength="53.98" lengthAdjust="spacingAndGlyphs" font-size="13">sn-glycerol</text>
<text x="830.8" y="402.7" textLength="32.67" lengthAdjust="spacingAndGlyphs" font-size="13">DGHS</text>
<text x="926.5" y="402.3" textLength="31.34" lengthAdjust="spacingAndGlyphs" font-size="13">DGTS</text>
<text x="984.5" y="391.6" textLength="88.02" lengthAdjust="spacingAndGlyphs" font-size="13">Phosphodimethyl-</text>
<text x="984.5" y="401.6" textLength="64.64" lengthAdjust="spacingAndGlyphs" font-size="13">ethanolamine</text>
<text x="984.5" y="443.9" textLength="86.66" lengthAdjust="spacingAndGlyphs" font-size="13">N-Methylethanol-</text>
<text x="984.5" y="453.5" textLength="80.98" lengthAdjust="spacingAndGlyphs" font-size="13">amine phosphate</text>
<text x="838.5" y="465" textLength="90.66" lengthAdjust="spacingAndGlyphs" font-size="13">L-Serine-phospho-</text>
<text x="838.5" y="475.5" textLength="64.64" lengthAdjust="spacingAndGlyphs" font-size="13">ethanolamine</text>
<text x="830" y="556.7" textLength="27.34" lengthAdjust="spacingAndGlyphs" font-size="13">CDP-</text>
<text x="830" y="567.2" textLength="64.64" lengthAdjust="spacingAndGlyphs" font-size="13">ethanolamine</text>
<text x="950.5" y="561.6" textLength="45.34" lengthAdjust="spacingAndGlyphs" font-size="13">Phospho-</text>
<text x="950.5" y="572.5" textLength="64.64" lengthAdjust="spacingAndGlyphs" font-size="13">ethanolamine</text>
<text x="1124.7" y="502.8" textLength="65.97" lengthAdjust="spacingAndGlyphs" font-size="13">Acetaldehyde</text>
<text x="1094.3" y="565" textLength="66.66" lengthAdjust="spacingAndGlyphs" font-size="13">Ethanolamine</text>
<text x="1176.9" y="565" textLength="76.64" lengthAdjust="spacingAndGlyphs" font-size="13">Diethanolamine</text>
<text x="1270.9" y="565" textLength="78.89" lengthAdjust="spacingAndGlyphs" font-size="13">Triethanolamine</text>
<text x="1165" y="616.7" textLength="41.98" lengthAdjust="spacingAndGlyphs" font-size="13">L-Serine</text>
<text x="1086.5" y="666.7" textLength="73.33" lengthAdjust="spacingAndGlyphs" font-size="13">sn-Glycerol-3P</text>
<text x="830.5" y="589" textLength="101.97" lengthAdjust="spacingAndGlyphs" font-size="13">1-Acyl-sn-glycero-3-</text>
<text x="830.5" y="599.8" textLength="105.31" lengthAdjust="spacingAndGlyphs" font-size="13">phosphoethanolamine</text>
<text x="942.5" y="614.7" textLength="57.31" lengthAdjust="spacingAndGlyphs" font-size="13">sn-Glycero-</text>
<text x="942.5" y="625.6" textLength="54.67" lengthAdjust="spacingAndGlyphs" font-size="13">3-phospho-</text>
<text x="942.5" y="636.5" textLength="64.64" lengthAdjust="spacingAndGlyphs" font-size="13">ethanolamine</text>
<text x="846.2" y="710.8" textLength="101.97" lengthAdjust="spacingAndGlyphs" font-size="13">2-Acyl-sn-glycero-3-</text>
<text x="846.2" y="721.2" textLength="105.31" lengthAdjust="spacingAndGlyphs" font-size="13">phosphoethanolamine</text>
<text x="682.6" y="674.2" textLength="66.67" lengthAdjust="spacingAndGlyphs" font-size="13">Phosphatidyl-</text>
<text x="682.6" y="684.6" textLength="64.64" lengthAdjust="spacingAndGlyphs" font-size="13">ethanolamine</text>
</svg>
</body></html>
